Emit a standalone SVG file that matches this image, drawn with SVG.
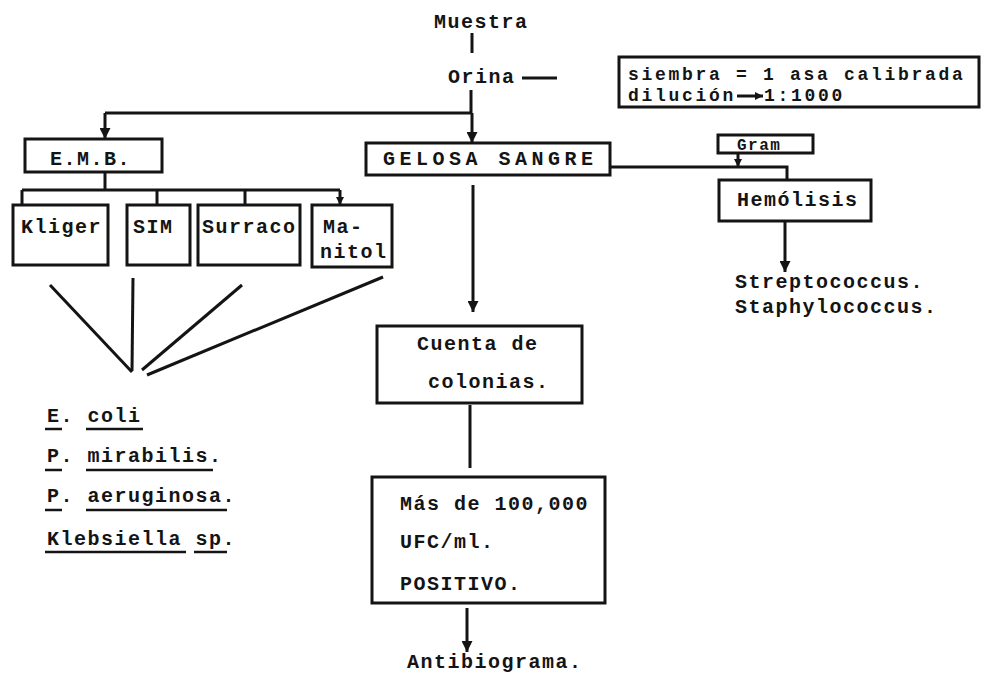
<svg xmlns="http://www.w3.org/2000/svg" width="985" height="675" viewBox="0 0 985 675">
<style>
text { font-family: "Liberation Mono", "DejaVu Sans Mono", monospace; font-size: 20px; font-weight: bold; fill: #141414; letter-spacing: 1.5px; }
.box { fill: none; stroke: #141414; stroke-width: 3; }
.ln { fill: none; stroke: #141414; stroke-width: 3; }
.ul { fill: none; stroke: #141414; stroke-width: 2.5; }
.wide { letter-spacing: 4.5px; }
.small { font-size: 16px; letter-spacing: 1.5px; }
.tight { font-size: 18px; letter-spacing: 2.7px; }
</style>
<defs>
<marker id="ah" viewBox="0 0 10 10" refX="10" refY="5" markerWidth="11" markerHeight="11" markerUnits="userSpaceOnUse" orient="auto">
<path d="M0,0 L10,5 L0,10 z" fill="#141414"/>
</marker>
<marker id="ahs" viewBox="0 0 10 10" refX="10" refY="5" markerWidth="8" markerHeight="8" markerUnits="userSpaceOnUse" orient="auto">
<path d="M0,0 L10,5 L0,10 z" fill="#141414"/>
</marker>
</defs>
<rect width="985" height="675" fill="#ffffff"/>

<g id="connectors">
<line class="ln" x1="472" y1="33" x2="472" y2="53"/>
<line class="ln" x1="522" y1="78" x2="557" y2="78"/>
<line class="ln" x1="471" y1="90" x2="471" y2="113" stroke-width="5"/>
<line class="ln" x1="105" y1="113" x2="472" y2="113"/>
<line class="ln" x1="105" y1="113" x2="105" y2="139" marker-end="url(#ah)"/>
<line class="ln" x1="472" y1="113" x2="472" y2="143" marker-end="url(#ah)"/>
<line class="ln" x1="105" y1="172" x2="105" y2="190"/>
<line class="ln" x1="22" y1="190" x2="340" y2="190"/>
<line class="ln" x1="22" y1="190" x2="22" y2="205"/>
<line class="ln" x1="157" y1="190" x2="157" y2="205"/>
<line class="ln" x1="245" y1="190" x2="245" y2="205"/>
<line class="ln" x1="340" y1="190" x2="340" y2="205" marker-end="url(#ahs)"/>
<line class="ln" x1="50" y1="285" x2="132" y2="372"/>
<line class="ln" x1="133" y1="278" x2="132" y2="371"/>
<line class="ln" x1="242" y1="285" x2="142" y2="370"/>
<line class="ln" x1="383" y1="277" x2="147" y2="375"/>
<line class="ln" x1="473" y1="185" x2="473" y2="312" marker-end="url(#ah)"/>
<path class="ln" d="M610,167 H787 V180"/>
<line class="ln" x1="738" y1="153" x2="738" y2="167" marker-end="url(#ahs)"/>
<line class="ln" x1="785" y1="222" x2="785" y2="272" marker-end="url(#ah)"/>
<line class="ln" x1="470" y1="405" x2="470" y2="468"/>
<line class="ln" x1="467" y1="608" x2="467" y2="652" marker-end="url(#ah)"/>
</g>

<g id="muestra"><text x="434" y="28">Muestra</text></g>
<g id="orina"><text x="448" y="83">Orina</text></g>

<g id="siembra">
<rect class="box" x="619" y="57" width="360" height="50"/>
<text class="tight" x="628" y="80">siembra = 1 asa calibrada</text>
<text class="tight" x="628" y="101">dilución</text>
<line class="ln" x1="737" y1="96" x2="763" y2="96" stroke-width="2.5" marker-end="url(#ahs)"/>
<text class="tight" x="764" y="101">1:1000</text>
</g>

<g id="emb">
<rect class="box" x="25" y="139" width="137" height="33"/>
<text x="50" y="165">E.M.B.</text>
</g>

<g id="gelosa">
<rect class="box" x="366" y="143" width="244" height="32"/>
<text class="wide" x="383" y="165">GELOSA SANGRE</text>
</g>

<g id="gram">
<rect class="box" x="718" y="135" width="95" height="18"/>
<text class="small" x="737" y="150">Gram</text>
</g>

<g id="hemolisis">
<rect class="box" x="719" y="180" width="152" height="41"/>
<text x="737" y="206">Hemólisis</text>
</g>

<g id="cocos">
<text x="735" y="288">Streptococcus.</text>
<text x="735" y="313">Staphylococcus.</text>
</g>

<g id="kliger">
<rect class="box" x="13" y="205" width="95" height="60"/>
<text x="21" y="233">Kliger</text>
</g>
<g id="sim">
<rect class="box" x="127" y="205" width="63" height="60"/>
<text x="133" y="233">SIM</text>
</g>
<g id="surraco">
<rect class="box" x="198" y="205" width="102" height="60"/>
<text x="202" y="233">Surraco</text>
</g>
<g id="manitol">
<rect class="box" x="312" y="205" width="80" height="62"/>
<text x="323" y="233">Ma-</text>
<text x="320" y="258">nitol</text>
</g>

<g id="especies">
<text x="47" y="422">E. coli</text>
<line class="ul" x1="45" y1="429" x2="62" y2="429"/>
<line class="ul" x1="86" y1="429" x2="143" y2="429"/>
<text x="47" y="462">P. mirabilis.</text>
<line class="ul" x1="45" y1="470" x2="62" y2="470"/>
<line class="ul" x1="86" y1="470" x2="213" y2="470"/>
<text x="47" y="502">P. aeruginosa.</text>
<line class="ul" x1="45" y1="510" x2="62" y2="510"/>
<line class="ul" x1="86" y1="510" x2="227" y2="510"/>
<text x="47" y="545">Klebsiella sp.</text>
<line class="ul" x1="45" y1="552" x2="186" y2="552"/>
<line class="ul" x1="194" y1="552" x2="227" y2="552"/>
</g>

<g id="cuenta">
<rect class="box" x="377" y="326" width="205" height="77"/>
<text x="417" y="350">Cuenta de</text>
<text x="428" y="388">colonias.</text>
</g>

<g id="positivo">
<rect class="box" x="372" y="477" width="233" height="126"/>
<text x="400" y="510">Más de 100,000</text>
<text x="400" y="548">UFC/ml.</text>
<text x="400" y="590">POSITIVO.</text>
</g>

<g id="antibiograma"><text x="407" y="668">Antibiograma.</text></g>
</svg>
